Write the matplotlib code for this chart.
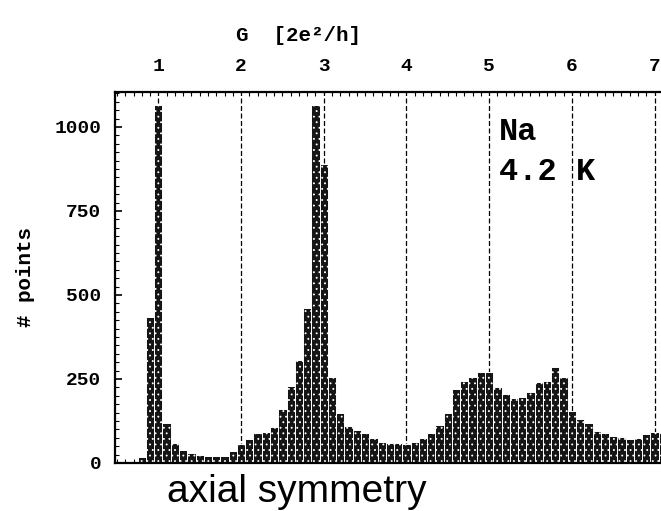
import numpy as np
import matplotlib
matplotlib.use("Agg")
from matplotlib import pyplot as plt
from matplotlib.ticker import MultipleLocator

# histogram of conductance values, bins of 0.1 (2e^2/h)
g_centers = [round(0.5 + 0.1 * i, 1) for i in range(67)]
counts = [0, 0, 3, 18, 435, 1065, 120, 60, 38, 30,
          24, 20, 20, 22, 35, 55, 72, 88, 92, 108,
          160, 230, 305, 460, 1065, 890, 255, 150, 110, 98,
          90, 75, 62, 58, 58, 57, 62, 75, 90, 112,
          150, 220, 245, 255, 270, 272, 225, 205, 192, 195,
          210, 240, 245, 285, 255, 155, 130, 118, 95, 88,
          80, 78, 72, 75, 85, 92, 92]
g_ticks = [1, 2, 3, 4, 5, 6, 7]
y_ticks = [0, 250, 500, 750, 1000]

mono = "Liberation Mono"

fig = plt.figure(figsize=(6.61, 5.11), dpi=100)
ax = fig.add_axes([0.174, 0.094, 0.83, 0.726])

# dashed guide lines at the integer conductance values
for g in g_ticks:
  ax.axvline(g, color="black", lw=0.9, ls=(0, (4, 2)), zorder=1)

plt.rcParams["hatch.linewidth"] = 0.6
ax.bar(g_centers, counts, width=0.1, color="#151515", edgecolor="white",
       linewidth=0.7, hatch="...", zorder=2)

ax.set_xlim(0.476, 7.11)
ax.set_ylim(0, 1104)

ax.xaxis.tick_top()
ax.set_xticks(g_ticks)
ax.set_xticklabels([str(g) for g in g_ticks], fontfamily=mono,
                   fontweight="bold", fontsize=14)
ax.xaxis.set_minor_locator(MultipleLocator(0.1))
ax.tick_params(axis="x", which="major", length=0, pad=12)
ax.tick_params(axis="x", which="minor", direction="in", length=3,
               top=True, bottom=True, width=0.8)

ax.set_yticks(y_ticks)
ax.set_yticklabels([str(v) for v in y_ticks], fontfamily=mono,
                   fontweight="bold", fontsize=14)
ax.yaxis.set_minor_locator(MultipleLocator(25))
ax.tick_params(axis="y", which="major", direction="in", length=5, pad=10,
               width=1.2)
ax.tick_params(axis="y", which="minor", direction="in", length=3, width=0.8)

ax.spines["right"].set_visible(False)
for s in ["left", "top", "bottom"]:
  ax.spines[s].set_linewidth(1.6)

ax.set_ylabel("# points", fontfamily=mono, fontweight="bold", fontsize=15,
              labelpad=14)

fig.text(298 / 661, 1 - 35 / 511, "G  [2e²/h]", ha="center", va="center",
         fontfamily=mono, fontweight="bold", fontsize=15)

ax.text(5.12, 985, "Na", fontfamily=mono, fontweight="bold", fontsize=23,
        ha="left", va="center")
ax.text(5.12, 865, "4.2 K", fontfamily=mono, fontweight="bold", fontsize=23,
        ha="left", va="center")

fig.text(167 / 661, 1 - 502 / 511, "axial symmetry", ha="left",
         va="baseline", fontfamily="Liberation Sans", fontsize=28)

fig.savefig("out.png", dpi=100, facecolor="white")
